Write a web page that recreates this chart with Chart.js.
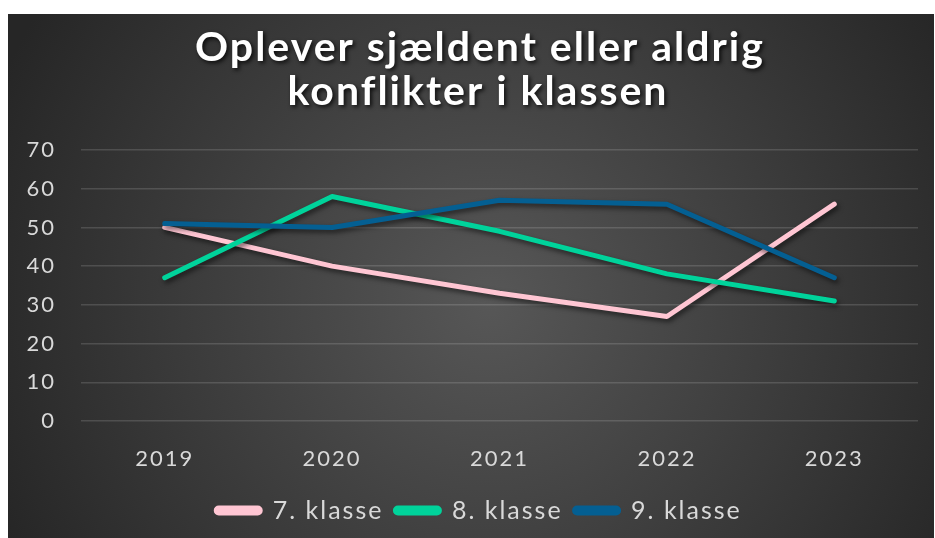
<!DOCTYPE html>
<html>
<head>
<meta charset="utf-8">
<script src="https://cdn.jsdelivr.net/npm/chart.js@4"></script>
<style>
    body { margin: 0; background: #ffffff; }
    #wrap { position: absolute; left: 8px; top: 14px; width: 926px; height: 524px; }
</style>
</head>
<body>
<div id="wrap"><canvas id="chart"></canvas></div>
<script>
// Data
const years = ['2019', '2020', '2021', '2022', '2023'];
const klasse7 = [50, 40, 33, 27, 56];
const klasse8 = [37, 58, 49, 38, 31];
const klasse9 = [51, 50, 57, 56, 37];
const titleLines = ['Oplever sjældent eller aldrig', 'konflikter i klassen'];

// Wider letter spacing for ticks and legend (canvas state is reset on resize)
function spaceOut(chart) {
    chart.ctx.letterSpacing = '2px';
}

// Dark radial background + title with shadow
const backdrop = {
    id: 'backdrop',
    beforeUpdate: spaceOut,
    beforeLayout: spaceOut,
    afterLayout(chart) {
        // legend sits a bit right of the canvas centre in the original
        chart.legend.left += 16;
        chart.legend.right += 16;
    },
    beforeDraw(chart) {
        const ctx = chart.ctx;
        const w = chart.width, h = chart.height;
        spaceOut(chart);
        const g = ctx.createRadialGradient(w * 0.52, h * 0.55, 0, w * 0.52, h * 0.55, w * 0.58);
        g.addColorStop(0, '#575757');
        g.addColorStop(1, '#262626');
        ctx.save();
        ctx.fillStyle = g;
        ctx.fillRect(0, 0, w, h);
        ctx.restore();
    },
    afterDraw(chart) {
        const ctx = chart.ctx;
        ctx.save();
        ctx.font = 'bold 41px Lato';
        ctx.letterSpacing = '2px';
        ctx.fillStyle = '#ffffff';
        ctx.textAlign = 'center';
        ctx.textBaseline = 'middle';
        ctx.shadowColor = 'rgba(0,0,0,0.8)';
        ctx.shadowBlur = 4;
        ctx.shadowOffsetX = 2;
        ctx.shadowOffsetY = 2;
        ctx.fillText(titleLines[0], 472, 34);
        ctx.fillText(titleLines[1], 470, 78);
        ctx.restore();
    }
};

// Drop shadow under the lines
const lineShadow = {
    id: 'lineShadow',
    beforeDatasetsDraw(chart) {
        const ctx = chart.ctx;
        ctx.save();
        ctx.shadowColor = 'rgba(0,0,0,0.55)';
        ctx.shadowBlur = 5;
        ctx.shadowOffsetX = 2;
        ctx.shadowOffsetY = 3;
    },
    afterDatasetsDraw(chart) {
        chart.ctx.restore();
    }
};

function series(label, data, color, order) {
    return {
        label: label,
        data: data,
        borderColor: color,
        backgroundColor: color,
        borderWidth: 5,
        borderCapStyle: 'round',
        borderJoinStyle: 'round',
        pointRadius: 0,
        tension: 0,
        order: order
    };
}

new Chart(document.getElementById('chart'), {
    type: 'line',
    data: {
        labels: years,
        datasets: [
            series('7. klasse', klasse7, '#ffc6d3', 3),
            series('8. klasse', klasse8, '#00d39b', 2),
            series('9. klasse', klasse9, '#045f92', 1)
        ]
    },
    options: {
        responsive: true,
        maintainAspectRatio: false,
        animation: false,
        layout: { padding: { top: 136, right: 16, bottom: 5, left: 0 } },
        plugins: {
            tooltip: { enabled: false },
            legend: {
                position: 'bottom',
                labels: {
                    color: '#d9d9d9',
                    font: { family: 'Lato', size: 25 },
                    boxWidth: 44,
                    boxHeight: 5,
                    useBorderRadius: true,
                    borderRadius: 2.5,
                    padding: 12,
                    sort: (a, b) => a.datasetIndex - b.datasetIndex
                }
            }
        },
        scales: {
            x: {
                offset: true,
                grid: { display: false, drawTicks: false },
                border: { display: false },
                ticks: {
                    color: '#d9d9d9',
                    font: { family: 'Lato', size: 22 },
                    padding: 25
                },
                afterFit(scale) { scale.height = 65; }
            },
            y: {
                min: 0,
                max: 70,
                ticks: {
                    stepSize: 10,
                    color: '#d9d9d9',
                    font: { family: 'Lato', size: 22 },
                    padding: 25
                },
                grid: { color: 'rgba(255,255,255,0.14)', lineWidth: 1.5, drawTicks: false },
                border: { display: false },
                afterFit(scale) { scale.width = 73; }
            }
        }
    },
    plugins: [backdrop, lineShadow]
});
</script>
</body>
</html>
